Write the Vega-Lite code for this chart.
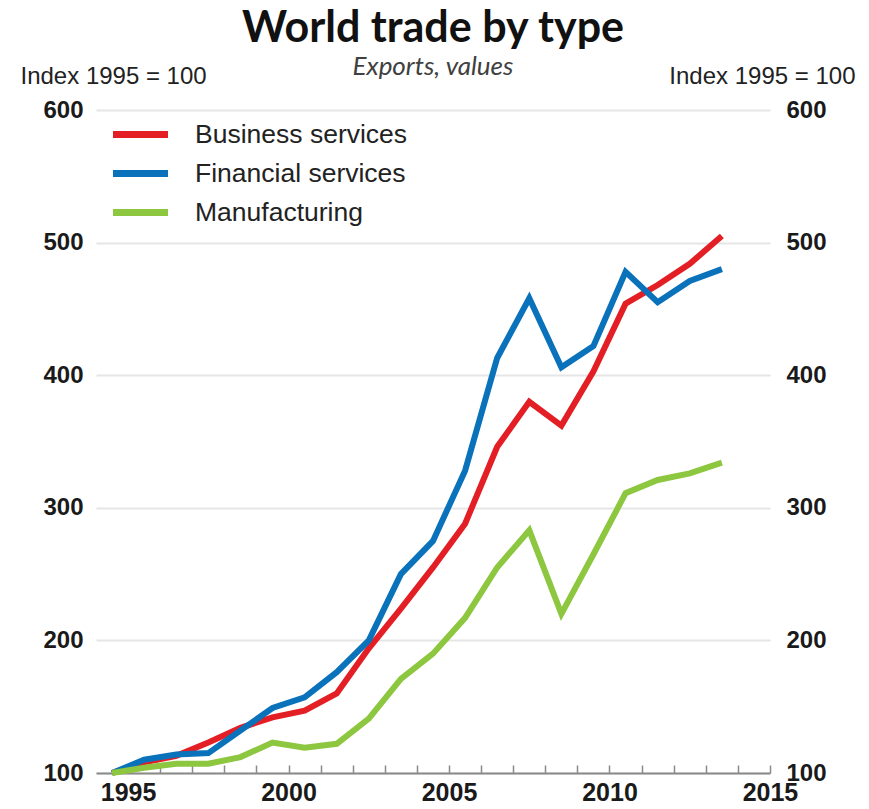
{
  "$schema": "https://vega.github.io/schema/vega-lite/v6.json",
  "autosize": {"type": "none"},
  "padding": {"left": 96, "top": 110, "right": 99, "bottom": 36},
  "width": 674,
  "height": 663,
  "background": "white",
  "title": {
    "text": "World trade by type",
    "subtitle": "Exports, values",
    "anchor": "middle",
    "font": "Lato",
    "fontSize": 43,
    "fontWeight": "bold",
    "color": "#111111",
    "subtitleFont": "Lato",
    "subtitleFontSize": 26,
    "subtitleFontStyle": "italic",
    "subtitleColor": "#404040",
    "subtitlePadding": 3,
    "offset": -16
  },
  "data": {
    "values": [
      {"year": 1995, "series": "Business services", "value": 100},
      {"year": 1996, "series": "Business services", "value": 108},
      {"year": 1997, "series": "Business services", "value": 113},
      {"year": 1998, "series": "Business services", "value": 123},
      {"year": 1999, "series": "Business services", "value": 134},
      {"year": 2000, "series": "Business services", "value": 142},
      {"year": 2001, "series": "Business services", "value": 147},
      {"year": 2002, "series": "Business services", "value": 160},
      {"year": 2003, "series": "Business services", "value": 194},
      {"year": 2004, "series": "Business services", "value": 224},
      {"year": 2005, "series": "Business services", "value": 255},
      {"year": 2006, "series": "Business services", "value": 288},
      {"year": 2007, "series": "Business services", "value": 346},
      {"year": 2008, "series": "Business services", "value": 380},
      {"year": 2009, "series": "Business services", "value": 362},
      {"year": 2010, "series": "Business services", "value": 403},
      {"year": 2011, "series": "Business services", "value": 454},
      {"year": 2012, "series": "Business services", "value": 468},
      {"year": 2013, "series": "Business services", "value": 484},
      {"year": 2014, "series": "Business services", "value": 505},
      {"year": 1995, "series": "Financial services", "value": 100},
      {"year": 1996, "series": "Financial services", "value": 110},
      {"year": 1997, "series": "Financial services", "value": 114},
      {"year": 1998, "series": "Financial services", "value": 115},
      {"year": 1999, "series": "Financial services", "value": 132},
      {"year": 2000, "series": "Financial services", "value": 149},
      {"year": 2001, "series": "Financial services", "value": 157},
      {"year": 2002, "series": "Financial services", "value": 176},
      {"year": 2003, "series": "Financial services", "value": 200},
      {"year": 2004, "series": "Financial services", "value": 250},
      {"year": 2005, "series": "Financial services", "value": 275},
      {"year": 2006, "series": "Financial services", "value": 328},
      {"year": 2007, "series": "Financial services", "value": 413},
      {"year": 2008, "series": "Financial services", "value": 458},
      {"year": 2009, "series": "Financial services", "value": 406},
      {"year": 2010, "series": "Financial services", "value": 422},
      {"year": 2011, "series": "Financial services", "value": 478},
      {"year": 2012, "series": "Financial services", "value": 455},
      {"year": 2013, "series": "Financial services", "value": 471},
      {"year": 2014, "series": "Financial services", "value": 480},
      {"year": 1995, "series": "Manufacturing", "value": 100},
      {"year": 1996, "series": "Manufacturing", "value": 104},
      {"year": 1997, "series": "Manufacturing", "value": 107},
      {"year": 1998, "series": "Manufacturing", "value": 107},
      {"year": 1999, "series": "Manufacturing", "value": 112},
      {"year": 2000, "series": "Manufacturing", "value": 123},
      {"year": 2001, "series": "Manufacturing", "value": 119},
      {"year": 2002, "series": "Manufacturing", "value": 122},
      {"year": 2003, "series": "Manufacturing", "value": 141},
      {"year": 2004, "series": "Manufacturing", "value": 171},
      {"year": 2005, "series": "Manufacturing", "value": 190},
      {"year": 2006, "series": "Manufacturing", "value": 217},
      {"year": 2007, "series": "Manufacturing", "value": 255},
      {"year": 2008, "series": "Manufacturing", "value": 283},
      {"year": 2009, "series": "Manufacturing", "value": 220},
      {"year": 2010, "series": "Manufacturing", "value": 265},
      {"year": 2011, "series": "Manufacturing", "value": 311},
      {"year": 2012, "series": "Manufacturing", "value": 321},
      {"year": 2013, "series": "Manufacturing", "value": 326},
      {"year": 2014, "series": "Manufacturing", "value": 334}
    ]
  },
  "encoding": {
    "x": {
      "field": "year",
      "type": "quantitative",
      "scale": {"domain": [1994.5, 2015.5], "nice": false, "zero": false},
      "axis": {
        "title": null,
        "values": [1995, 1996, 1997, 1998, 1999, 2000, 2001, 2002, 2003, 2004, 2005, 2006, 2007, 2008, 2009, 2010, 2011, 2012, 2013, 2014, 2015],
        "format": "d",
        "labelExpr": "datum.value % 5 === 0 ? datum.label : ''",
        "grid": false,
        "domainColor": "#8a8a8a",
        "domainWidth": 2,
        "tickColor": "#8a8a8a",
        "tickWidth": 1.5,
        "tickSize": -8,
        "tickOffset": 16,
        "labelPadding": 15,
        "labelFont": "Liberation Sans",
        "labelFontWeight": "bold",
        "labelFontSize": 25,
        "labelColor": "#1a1a1a",
        "labelFlush": false,
        "labelOverlap": false
      }
    },
    "color": {
      "field": "series",
      "type": "nominal",
      "scale": {
        "domain": ["Business services", "Financial services", "Manufacturing"],
        "range": ["#e31e24", "#0a72ba", "#8dc63f"]
      },
      "legend": {
        "title": null,
        "orient": "none",
        "legendX": 27,
        "legendY": 7,
        "padding": 0,
        "symbolType": "M-2,0H2",
        "symbolSize": 756,
        "symbolStrokeWidth": 7,
        "labelFont": "Liberation Sans",
        "labelFontSize": 26.5,
        "labelColor": "#222222",
        "labelOffset": 37,
        "labelLimit": 500,
        "rowPadding": 7
      }
    }
  },
  "layer": [
    {
      "transform": [{"filter": "datum.series !== 'Manufacturing'"}],
      "mark": {"type": "line", "strokeWidth": 6},
      "encoding": {
        "y": {
          "field": "value",
          "type": "quantitative",
          "scale": {"domain": [100, 600], "nice": false, "zero": false},
          "axis": {
            "orient": "left",
            "values": [100, 200, 300, 400, 500, 600],
            "ticks": false,
            "domain": false,
            "grid": true,
            "gridColor": "#e6e6e6",
            "gridWidth": 2,
            "labelPadding": 13,
            "labelFont": "Liberation Sans",
            "labelFontWeight": "bold",
            "labelFontSize": 24,
            "labelColor": "#1a1a1a",
            "title": "Index 1995 = 100",
            "titleAngle": 0,
            "titleAlign": "left",
            "titleBaseline": "alphabetic",
            "titleX": -76,
            "titleY": -27,
            "titleFont": "Liberation Sans",
            "titleFontWeight": "normal",
            "titleFontSize": 24,
            "titleColor": "#222222"
          }
        }
      }
    },
    {
      "transform": [{"filter": "datum.series === 'Manufacturing'"}],
      "mark": {"type": "line", "strokeWidth": 6},
      "encoding": {
        "y": {
          "field": "value",
          "type": "quantitative",
          "scale": {"domain": [100, 600], "nice": false, "zero": false},
          "axis": {
            "orient": "right",
            "values": [100, 200, 300, 400, 500, 600],
            "ticks": false,
            "domain": false,
            "grid": false,
            "labelPadding": 16,
            "labelFont": "Liberation Sans",
            "labelFontWeight": "bold",
            "labelFontSize": 24,
            "labelColor": "#1a1a1a",
            "title": "Index 1995 = 100",
            "titleAngle": 0,
            "titleAlign": "right",
            "titleBaseline": "alphabetic",
            "titleX": 85,
            "titleY": -27,
            "titleFont": "Liberation Sans",
            "titleFontWeight": "normal",
            "titleFontSize": 24,
            "titleColor": "#222222"
          }
        }
      }
    }
  ],
  "resolve": {"axis": {"y": "independent"}},
  "config": {"view": {"stroke": null}}
}
